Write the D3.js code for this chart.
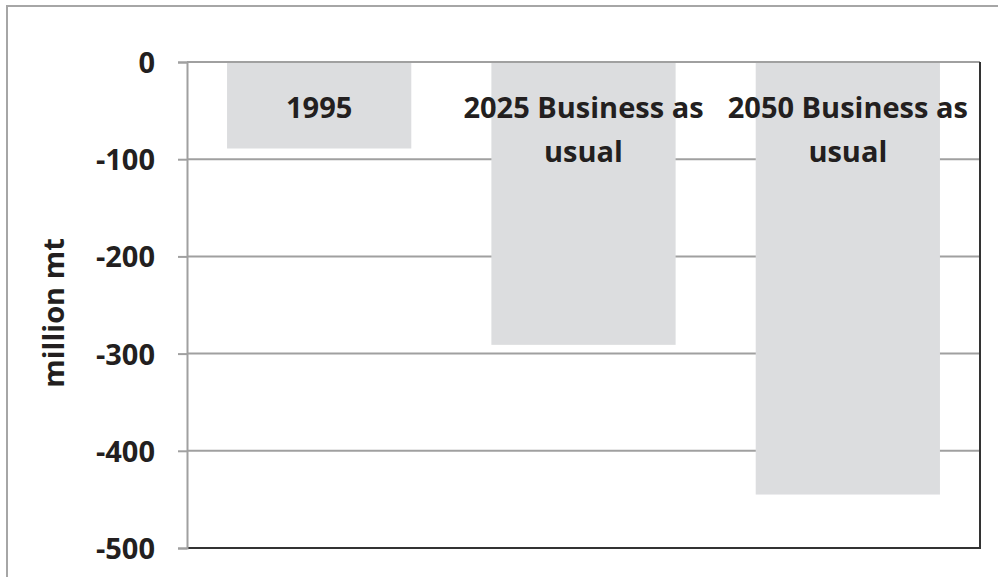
<!DOCTYPE html>
<html>
<head>
<meta charset="utf-8">
<script src="https://cdn.jsdelivr.net/npm/d3@7/dist/d3.min.js"></script>
<style>
  html, body { margin: 0; padding: 0; background: #fff; }
  svg { display: block; }
  text { font-family: "Open Sans", "Noto Sans", sans-serif; font-weight: 700; fill: #231f20; }
</style>
</head>
<body>
<svg id="chart" width="998" height="577"></svg>
<script>
// Net trade balance scenarios (million metric tons)
const categories = ["1995", "2025 Business as usual", "2050 Business as usual"];
const labelLines = [["1995"], ["2025 Business as", "usual"], ["2050 Business as", "usual"]];
const values = [-89, -291, -445];
const yTicks = [0, -100, -200, -300, -400, -500];
const yTitle = "million mt";

const svg = d3.select("#chart");
const plot = { left: 187, top: 62, right: 980, bottom: 548 };

// outer chart frame (continues past the right and bottom edges)
svg.append("rect")
  .attr("x", 7).attr("y", 6)
  .attr("width", 1100).attr("height", 700)
  .attr("fill", "#fff")
  .attr("stroke", "#a6a6a6").attr("stroke-width", 2);

const x = d3.scaleBand()
  .domain(categories)
  .range([plot.left, plot.right])
  .paddingInner(0.303)
  .paddingOuter(0.1515);

const y = d3.scaleLinear()
  .domain([0, -500])
  .range([plot.top, plot.bottom]);

// horizontal gridlines
svg.append("g")
  .selectAll("line")
  .data(yTicks)
  .join("line")
  .attr("x1", plot.left).attr("x2", plot.right)
  .attr("y1", d => y(d)).attr("y2", d => y(d))
  .attr("stroke", "#a0a0a0").attr("stroke-width", 2);

// bars hang down from zero
svg.append("g")
  .selectAll("rect")
  .data(categories)
  .join("rect")
  .attr("x", d => x(d))
  .attr("y", y(0) + 1)
  .attr("width", x.bandwidth())
  .attr("height", (d, i) => y(values[i]) - y(0) - 1)
  .attr("fill", "#dcdddf");

// plot-area frame: dark right and bottom edges
svg.append("line")
  .attr("x1", plot.left).attr("x2", plot.right)
  .attr("y1", plot.bottom).attr("y2", plot.bottom)
  .attr("stroke", "#333").attr("stroke-width", 2);
svg.append("line")
  .attr("x1", plot.right).attr("x2", plot.right)
  .attr("y1", plot.top).attr("y2", plot.bottom + 1)
  .attr("stroke", "#333").attr("stroke-width", 2);

// y axis (plain hyphen for negative numbers)
const yAxis = d3.axisLeft(y)
  .tickValues(yTicks)
  .tickSize(9)
  .tickPadding(23)
  .tickFormat(d => String(d));
const gy = svg.append("g")
  .attr("transform", `translate(${plot.left},0)`)
  .call(yAxis);
gy.select(".domain").attr("stroke", "#a0a0a0").attr("stroke-width", 2);
gy.selectAll(".tick line").attr("stroke", "#a0a0a0").attr("stroke-width", 2);
gy.selectAll(".tick text")
  .attr("font-size", 29)
  .attr("font-family", null)
  .attr("fill", "#231f20")
  .attr("dy", "0.36em");

// category labels placed near the top of each band
const cat = svg.append("g");
categories.forEach((c, i) => {
  const t = cat.append("text")
    .attr("x", x(c) + x.bandwidth() / 2)
    .attr("y", 118)
    .attr("text-anchor", "middle")
    .attr("font-size", 29);
  labelLines[i].forEach((line, j) => {
    t.append("tspan")
      .attr("x", x(c) + x.bandwidth() / 2)
      .attr("y", 118 + j * 44)
      .text(line);
  });
});

// y axis title
svg.append("text")
  .attr("transform", `translate(64,${(plot.top + plot.bottom) / 2 + 8}) rotate(-90)`)
  .attr("text-anchor", "middle")
  .attr("font-size", 29)
  .text(yTitle);
</script>
</body>
</html>
